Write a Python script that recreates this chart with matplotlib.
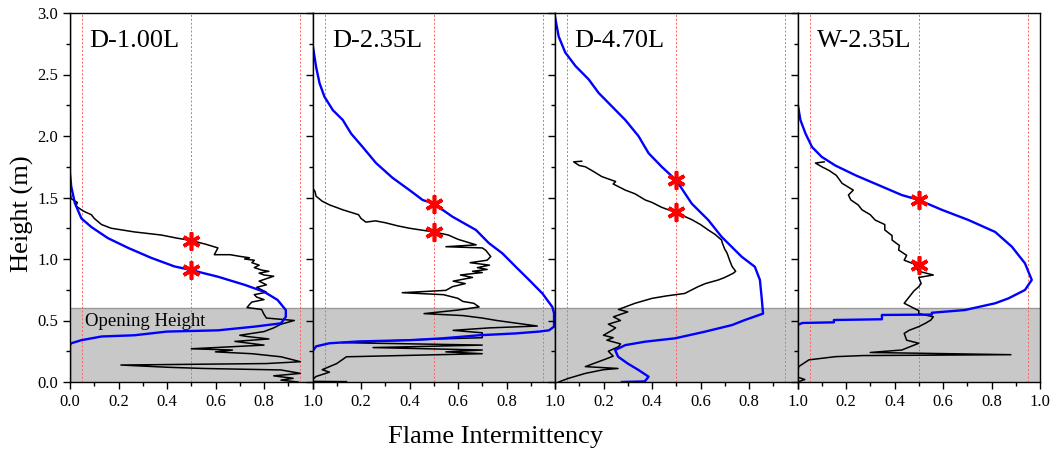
import matplotlib
matplotlib.use("Agg")
import matplotlib.pyplot as plt
from matplotlib.ticker import MultipleLocator

plt.rcParams['font.family'] = ['Liberation Serif', 'DejaVu Serif']

# ---- data -------------------------------------------------------------
cases = ["D-1.00L", "D-2.35L", "D-4.70L", "W-2.35L"]

# Black curves (intermittency, height)
d100_black_x = [0.0, 0.005, 0.03, 0.025, 0.047, 0.06, 0.088, 0.10, 0.13, 0.17, 0.266, 0.376, 0.44, 0.50, 0.56, 0.61,
                0.595, 0.66, 0.705, 0.74, 0.72, 0.76, 0.75, 0.78, 0.76, 0.79, 0.82, 0.78, 0.80, 0.84, 0.78, 0.81,
                0.77, 0.79, 0.81, 0.76, 0.77, 0.80, 0.75, 0.74, 0.73, 0.79, 0.80, 0.81, 0.925, 0.87, 0.84, 0.80,
                0.70, 0.73, 0.82, 0.68, 0.80, 0.50, 0.67, 0.60, 0.75, 0.87, 0.95, 0.81, 0.21, 0.40, 0.55, 0.87,
                0.95, 0.84, 0.92, 0.87, 0.94]
d100_black_y = [1.55, 1.49, 1.46, 1.43, 1.40, 1.385, 1.36, 1.33, 1.28, 1.25, 1.22, 1.195, 1.17, 1.15, 1.12, 1.09,
                1.035, 1.035, 1.02, 1.01, 1.00, 0.99, 0.97, 0.95, 0.93, 0.91, 0.90, 0.885, 0.87, 0.86, 0.82, 0.79,
                0.77, 0.75, 0.73, 0.71, 0.69, 0.67, 0.65, 0.63, 0.605, 0.59, 0.55, 0.52, 0.50, 0.47, 0.44, 0.41,
                0.38, 0.37, 0.35, 0.33, 0.30, 0.27, 0.26, 0.245, 0.23, 0.205, 0.165, 0.15, 0.138, 0.12, 0.11, 0.098,
                0.07, 0.05, 0.03, 0.015, 0.0]

d235_black_x = [0.0, 0.01, 0.015, 0.04, 0.07, 0.125, 0.19, 0.20, 0.22, 0.26, 0.30, 0.35, 0.40, 0.50, 0.56, 0.60,
                0.65, 0.675, 0.55, 0.70, 0.715, 0.735, 0.72, 0.65, 0.73, 0.68, 0.72, 0.66, 0.70, 0.61, 0.66, 0.58,
                0.63, 0.577, 0.55, 0.37, 0.54, 0.60, 0.62, 0.665, 0.687, 0.60, 0.46, 0.62, 0.70, 0.76, 0.927, 0.73,
                0.58, 0.70, 0.70, 0.52, 0.12, 0.70, 0.25, 0.70, 0.55, 0.70, 0.14, 0.10, 0.04, 0.07, 0.015, 0.0,
                0.0, 0.14]
d235_black_y = [1.58, 1.55, 1.51, 1.47, 1.44, 1.40, 1.36, 1.33, 1.30, 1.31, 1.295, 1.27, 1.25, 1.22, 1.195, 1.16,
                1.13, 1.115, 1.10, 1.09, 1.07, 1.02, 0.99, 0.97, 0.95, 0.93, 0.915, 0.90, 0.89, 0.87, 0.85, 0.82,
                0.80, 0.775, 0.745, 0.726, 0.71, 0.68, 0.655, 0.64, 0.61, 0.585, 0.556, 0.54, 0.52, 0.50, 0.455, 0.44,
                0.42, 0.40, 0.36, 0.35, 0.32, 0.30, 0.28, 0.26, 0.245, 0.23, 0.205, 0.15, 0.10, 0.08, 0.045, 0.02,
                0.005, 0.003]

d470_black_x = [0.11, 0.077, 0.10, 0.125, 0.16, 0.193, 0.25, 0.24, 0.29, 0.33, 0.372, 0.40, 0.44, 0.495, 0.53, 0.564,
                0.60, 0.632, 0.66, 0.687, 0.69, 0.70, 0.71, 0.72, 0.73, 0.745, 0.735, 0.70, 0.674, 0.62, 0.59, 0.535,
                0.46, 0.40, 0.33, 0.262, 0.30, 0.241, 0.27, 0.22, 0.25, 0.235, 0.20, 0.24, 0.214, 0.27, 0.262, 0.22,
                0.24, 0.20, 0.125, 0.26, 0.20, 0.125, 0.056, 0.015]
d470_black_y = [1.795, 1.79, 1.76, 1.75, 1.71, 1.67, 1.63, 1.61, 1.56, 1.53, 1.48, 1.46, 1.42, 1.38, 1.35, 1.32,
                1.28, 1.236, 1.20, 1.154, 1.13, 1.08, 1.046, 0.99, 0.94, 0.90, 0.884, 0.85, 0.83, 0.80, 0.775, 0.72,
                0.70, 0.68, 0.64, 0.59, 0.57, 0.53, 0.50, 0.47, 0.44, 0.42, 0.38, 0.36, 0.34, 0.31, 0.287, 0.25,
                0.21, 0.18, 0.125, 0.11, 0.10, 0.07, 0.03, 0.0]

w235_black_x = [0.11, 0.074, 0.10, 0.13, 0.16, 0.184, 0.23, 0.21, 0.22, 0.25, 0.266, 0.30, 0.32, 0.36, 0.36, 0.39,
                0.39, 0.42, 0.417, 0.45, 0.44, 0.48, 0.485, 0.50, 0.56, 0.50, 0.51, 0.50, 0.48, 0.46, 0.44, 0.47,
                0.50, 0.50, 0.56, 0.55, 0.53, 0.50, 0.46, 0.44, 0.45, 0.50, 0.43, 0.30, 0.88, 0.27, 0.156, 0.047,
                0.005, 0.0, 0.0, 0.03, 0.0]
w235_black_y = [1.79, 1.78, 1.75, 1.72, 1.68, 1.615, 1.56, 1.52, 1.48, 1.44, 1.40, 1.36, 1.317, 1.28, 1.236, 1.19,
                1.154, 1.11, 1.073, 1.03, 0.99, 0.96, 0.937, 0.90, 0.87, 0.85, 0.80, 0.775, 0.74, 0.69, 0.64, 0.61,
                0.58, 0.556, 0.53, 0.504, 0.48, 0.45, 0.42, 0.395, 0.34, 0.315, 0.26, 0.24, 0.222, 0.215, 0.206, 0.18,
                0.125, 0.07, 0.04, 0.02, 0.0]

# Blue curves (intermittency, height)
d100_blue_x = [0.0, 0.0, 0.005, 0.02, 0.047, 0.088, 0.156, 0.24, 0.334, 0.43, 0.50, 0.61, 0.72, 0.80, 0.856, 0.89,
               0.89, 0.87, 0.76, 0.61, 0.40, 0.266, 0.13, 0.047, 0.005, 0.0, 0.0]
d100_blue_y = [3.0, 1.70, 1.59, 1.455, 1.33, 1.26, 1.17, 1.09, 1.01, 0.94, 0.91, 0.856, 0.79, 0.734, 0.667, 0.585,
               0.53, 0.477, 0.45, 0.42, 0.41, 0.38, 0.37, 0.34, 0.315, 0.30, 0.0]

d235_blue_x = [0.0, 0.015, 0.029, 0.049, 0.084, 0.125, 0.159, 0.207, 0.262, 0.33, 0.40, 0.454, 0.50, 0.577, 0.674,
               0.728, 0.783, 0.838, 0.893, 0.948, 0.989, 0.996, 0.996, 0.975, 0.934, 0.838, 0.687, 0.536, 0.40,
               0.193, 0.07, 0.015, 0.0, 0.0]
d235_blue_y = [2.75, 2.56, 2.43, 2.32, 2.21, 2.13, 2.02, 1.91, 1.78, 1.66, 1.56, 1.48, 1.45, 1.344, 1.236,
               1.128, 1.046, 0.937, 0.83, 0.72, 0.61, 0.56, 0.45, 0.42, 0.41, 0.395, 0.38, 0.355, 0.34,
               0.33, 0.315, 0.29, 0.25, 0.0]

d470_blue_x = [0.0, 0.015, 0.042, 0.084, 0.139, 0.18, 0.235, 0.29, 0.344, 0.386, 0.44, 0.50, 0.564, 0.632, 0.687,
               0.728, 0.77, 0.824, 0.845, 0.852, 0.858, 0.783, 0.73, 0.618, 0.495, 0.372, 0.29, 0.248, 0.26, 0.30,
               0.344, 0.386, 0.37, 0.276]
d470_blue_y = [2.97, 2.81, 2.68, 2.57, 2.46, 2.35, 2.24, 2.13, 2.0, 1.86, 1.75, 1.64, 1.45, 1.317, 1.18,
               1.10, 1.018, 0.937, 0.83, 0.69, 0.556, 0.504, 0.463, 0.409, 0.355, 0.328, 0.30, 0.26, 0.206, 0.15,
               0.098, 0.043, 0.005, 0.0]

w235_blue_x = [0.0, 0.012, 0.033, 0.06, 0.10, 0.156, 0.24, 0.335, 0.43, 0.50, 0.595, 0.705, 0.815, 0.884, 0.938,
               0.966, 0.938, 0.87, 0.815, 0.69, 0.554, 0.554, 0.348, 0.348, 0.15, 0.15, 0.02, 0.0, 0.0]
w235_blue_y = [2.27, 2.13, 2.02, 1.91, 1.83, 1.76, 1.68, 1.60, 1.52, 1.48, 1.40, 1.317, 1.22, 1.10, 0.965,
               0.83, 0.748, 0.68, 0.64, 0.585, 0.563, 0.548, 0.545, 0.51, 0.504, 0.485, 0.48, 0.463, 0.0]

# Heights where each curve reaches an intermittency of 0.5
black_half_height = [1.15, 1.22, 1.38, 0.95]
blue_half_height = [0.91, 1.45, 1.64, 1.48]

opening_height = 0.6
guide_levels = [0.05, 0.5, 0.95]

black_series = [(d100_black_x, d100_black_y), (d235_black_x, d235_black_y),
                (d470_black_x, d470_black_y), (w235_black_x, w235_black_y)]
blue_series = [(d100_blue_x, d100_blue_y), (d235_blue_x, d235_blue_y),
               (d470_blue_x, d470_blue_y), (w235_blue_x, w235_blue_y)]

# ---- figure -----------------------------------------------------------
fig, axes = plt.subplots(1, 4, figsize=(10.52, 4.5), dpi=100, sharey=True)
fig.subplots_adjust(left=70 / 1052, right=1040 / 1052, top=1 - 13 / 450, bottom=1 - 382 / 450, wspace=0)

for i, ax in enumerate(axes):
    ax.axhspan(0, opening_height, color='#c8c8c8', zorder=0, lw=0)
    ax.axhline(opening_height, color='#9a9a9a', lw=1.0, zorder=0.5)
    for g in guide_levels:
        ax.axvline(g, color='#ff6060', ls=(0, (2, 2)), lw=0.7, zorder=1)

    bx, by = black_series[i]
    ax.plot(bx, by, color='black', lw=1.1, zorder=2)
    ux, uy = blue_series[i]
    ax.plot(ux, uy, color='#0000ff', lw=1.7, zorder=3)

    ax.plot([0.5, 0.5], [black_half_height[i], blue_half_height[i]], ls='none',
            marker=(6, 2, 0), ms=13, mew=2.6, color='red', zorder=4)

    ax.text(0.08, 2.72, cases[i], fontsize=19, va='baseline', ha='left')

    ax.set_xlim(0, 1.0)
    ax.set_ylim(0, 3.0)
    ax.xaxis.set_minor_locator(MultipleLocator(0.1))
    ax.yaxis.set_major_locator(MultipleLocator(0.5))
    ax.yaxis.set_minor_locator(MultipleLocator(0.25))
    ax.tick_params(which='both', direction='out', top=False, right=False, labelsize=12, width=1.0)
    ax.tick_params(which='major', length=5)
    ax.tick_params(which='minor', length=3)
    ticks = [0.0, 0.2, 0.4, 0.6, 0.8, 1.0]
    ax.set_xticks(ticks)
    if i == 0:
        ax.set_xticklabels([f"{t:.1f}" for t in ticks])
    else:
        ax.set_xticklabels([''] + [f"{t:.1f}" for t in ticks[1:]])
        ax.tick_params(labelleft=False)
    for sp in ax.spines.values():
        sp.set_linewidth(1.0)
        sp.set_zorder(5)

axes[0].yaxis.set_major_formatter(plt.FuncFormatter(lambda v, p: f"{v:.1f}"))
axes[0].text(0.06, 0.455, "Opening Height", fontsize=13.5, va='baseline', ha='left', zorder=6)

fig.text(0.021, 0.525, "Height (m)", rotation=90, fontsize=19, ha='center', va='center')
fig.text(0.471, 0.029, "Flame Intermittency", fontsize=19, ha='center', va='center')

fig.savefig("out.png", dpi=100)
